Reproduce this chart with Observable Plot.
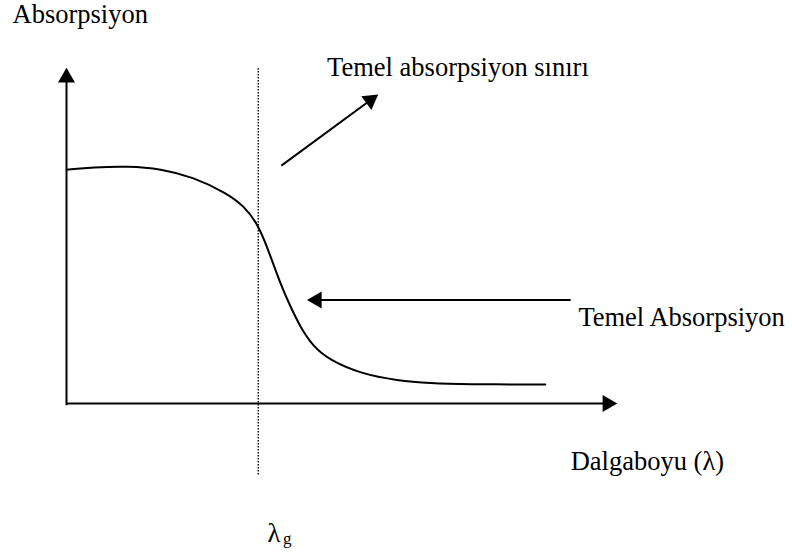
<!DOCTYPE html>
<html>
<head>
<meta charset="utf-8">
<script src="https://cdn.jsdelivr.net/npm/d3@7"></script>
<script src="https://cdn.jsdelivr.net/npm/@observablehq/plot@0.6"></script>
<style>
  html, body { margin: 0; padding: 0; background: white; }
</style>
</head>
<body>
<div id="chart"></div>
<script>
// Curve: wavelength (x) vs absorption (y), schematic units 0–100
const wavelength = [0, 4.9, 11.1, 17.1, 23.0, 29.2, 32.1, 34.8, 37.0, 38.8, 40.7, 42.5, 44.8, 47.9, 53.4, 60.1, 66.1, 72.1, 86.9, 86.9];
const absorption = [69.6, 70.3, 70.6, 69.9, 67.4, 62.5, 58.9, 53.4, 44.0, 35.7, 28.6, 22.6, 16.9, 12.8, 8.9, 6.8, 6.0, 5.7, 5.65, 5.65];

// Band-gap wavelength marker
const lambdaG = 34.8;
const gapLineSpan = [99.7, -21.4];

// Axes (with arrowheads) and pointer arrows
const axisArrows = [
  {x1: 0, y1: -0.5, x2: 0, y2: 100},
  {x1: 0, y1: 0, x2: 100, y2: 0}
];
const pointerArrows = [
  {x1: 39.0, y1: 70.8, x2: 56.6, y2: 92.0},
  {x1: 91.5, y1: 30.8, x2: 43.6, y2: 30.8}
];

// Labels
const labels = [
  {text: "Absorpsiyon", x: -9.8, y: 113.1},
  {text: "Temel absorpsiyon sınırı", x: 47.3, y: 97.6},
  {text: "Temel Absorpsiyon", x: 92.9, y: 23.2},
  {text: "Dalgaboyu (λ)", x: 91.5, y: -19.9},
  {text: "λ", x: 36.5, y: -41.1}
];
const subLabels = [{text: "g", x: 39.3, y: -41.9}];

const xDomain = [0, 100], xRange = [66, 617];
const yDomain = [0, 100], yRange = [403, 67];
const xs = d3.scaleLinear().domain(xDomain).range(xRange);
const ys = d3.scaleLinear().domain(yDomain).range(yRange);

const curve = wavelength.map((x, i) => ({x, y: absorption[i]}));

const allArrows = [...axisArrows, ...pointerArrows];
const headBack = 10; // px from tip to symbol centre
const heads = allArrows.map(a => {
  const px1 = xs(a.x1), py1 = ys(a.y1), px2 = xs(a.x2), py2 = ys(a.y2);
  const dx = px2 - px1, dy = py2 - py1, L = Math.hypot(dx, dy);
  const cx = px2 - dx / L * headBack, cy = py2 - dy / L * headBack;
  const angle = Math.atan2(dx, -dy) * 180 / Math.PI;
  return {x: xs.invert(cx), y: ys.invert(cy), angle};
});
const shafts = allArrows.map((a, i) => ({x1: a.x1, y1: a.y1, x2: heads[i].x, y2: heads[i].y}));

const font = "'Liberation Serif', 'Times New Roman', serif";

const chart = Plot.plot({
  width: 792,
  height: 556,
  margin: 0,
  x: {domain: xDomain, range: xRange, axis: null},
  y: {domain: yDomain, range: yRange, axis: null},
  style: {background: "white", fontFamily: font, fontSize: "26px", color: "black", overflow: "visible"},
  marks: [
    Plot.ruleX([lambdaG], {y1: gapLineSpan[0], y2: gapLineSpan[1], stroke: "black", strokeWidth: 1.4, strokeDasharray: "1.5,1.5"}),
    Plot.line(curve, {x: "x", y: "y", curve: "basis", stroke: "black", strokeWidth: 2}),
    Plot.link(shafts, {x1: "x1", y1: "y1", x2: "x2", y2: "y2", stroke: "black", strokeWidth: 2}),
    Plot.dot(heads, {x: "x", y: "y", symbol: "triangle", r: 6.3, fill: "black", stroke: "none", rotate: "angle"}),
    Plot.text(labels, {x: "x", y: "y", text: "text", textAnchor: "start", lineAnchor: "bottom", fill: "black", fontSize: 26.5}),
    Plot.text(subLabels, {x: "x", y: "y", text: "text", textAnchor: "start", lineAnchor: "bottom", fill: "black", fontSize: 17})
  ]
});
document.getElementById("chart").appendChild(chart);
</script>
</body>
</html>
